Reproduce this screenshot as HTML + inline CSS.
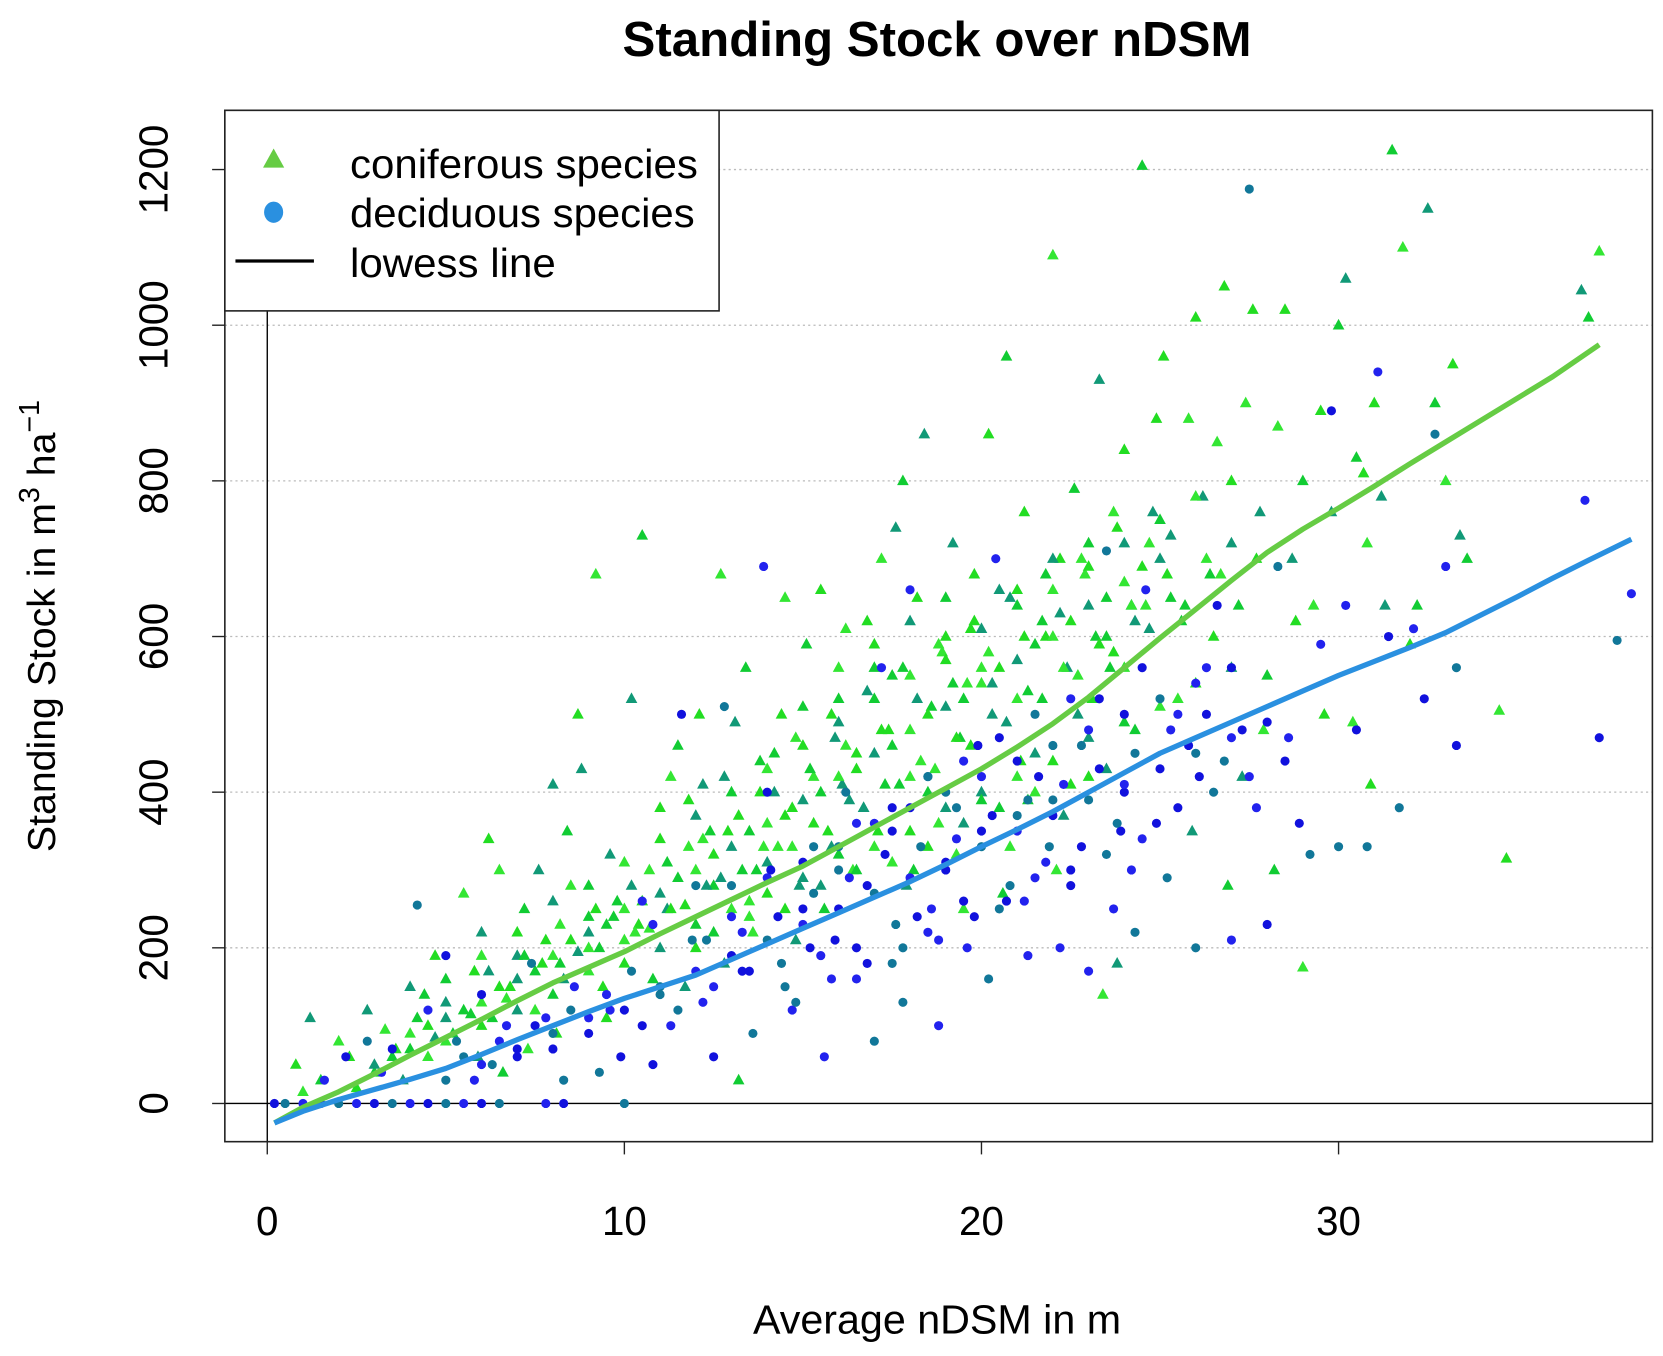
<!DOCTYPE html>
<html><head><meta charset="utf-8"><style>
html,body{margin:0;padding:0;background:#fff;}
svg{display:block;}
text{font-family:"Liberation Sans",sans-serif;}
</style></head><body>
<svg id="chart" width="1663" height="1356" viewBox="0 0 1568 1278" preserveAspectRatio="none" xmlns="http://www.w3.org/2000/svg">
<text x="587" y="53" textLength="593" lengthAdjust="spacingAndGlyphs" font-size="46" font-weight="bold">Standing Stock over nDSM</text>
<g id="grid"></g>
<g id="refs"></g>
<g id="pts"></g>
<g id="lines"></g>
<g id="axes"></g>
<text x="710" y="1257" textLength="347" lengthAdjust="spacingAndGlyphs" font-size="38">Average nDSM in m</text>
<text transform="translate(52,590) rotate(-90)" text-anchor="middle" font-size="37">Standing Stock in m<tspan font-size="27" dy="-15">3</tspan><tspan dy="15"> ha</tspan><tspan font-size="27" dy="-15">−1</tspan></text>
<g id="legend">
<rect x="212" y="104" width="466" height="189" fill="#fff" stroke="#222" stroke-width="1.5"/>
<polygon points="258,140 248,158 268,158" fill="#66cc44"/>
<text x="330" y="168" textLength="328" lengthAdjust="spacingAndGlyphs" font-size="38">coniferous species</text>
<ellipse cx="258" cy="200" rx="9" ry="10" fill="#2a90e0"/>
<text x="330" y="214" textLength="325" lengthAdjust="spacingAndGlyphs" font-size="38">deciduous species</text>
<line x1="222" y1="246" x2="296" y2="246" stroke="#000" stroke-width="3"/>
<text x="330" y="261" textLength="194" lengthAdjust="spacingAndGlyphs" font-size="38">lowess line</text>
</g>
</svg>
<script>
const xTicks=[0,10,20,30];
const yTicks=[0,200,400,600,800,1000,1200];
const conX=[0.8,1.2,1.5,2,2.3,2.8,3,3.3,3.6,4,4.2,4.5,4.7,5,5.2,1,2.5,3.8,4.4,5.5,
5.8,6,6.3,6.5,6.8,7,7.2,7.5,7.8,8,8.2,8.5,8.7,8.8,9,9.2,9.4,9.6,9.8,10,6.2,7.6,8.4,9,9.5,5.9,6.6,7.3,8.1,
10.2,10.5,10.7,11,11.2,11.5,11.8,12,12.2,12.5,12.7,12.9,13.1,13.4,13.6,13.8,14,14.2,14.5,14.7,14.9,10.8,11.3,12.1,12.8,13.2,13.9,14.4,11.7,12.4,13.5,10.4,14.8,
15.1,15.3,15.5,15.8,16,16.2,16.5,16.7,17,17.2,17.4,17.6,17.8,18,18.2,18.4,18.6,18.8,19,19.2,19.4,19.6,19.8,20,15.6,16.4,17.1,17.9,18.5,19.3,16.8,15.9,17.5,18.9,19.7,16.1,18.1,19.5,
20.2,20.5,20.7,21,21.2,21.5,21.7,22,22.2,22.4,22.6,22.9,23.1,23.3,23.5,23.7,24,24.2,24.5,24.7,24.9,20.3,21.3,22.1,23,23.8,24.3,20.8,21.8,22.7,23.6,24.6,21.1,22.3,20.6,23.4,
25.1,25.3,25.6,25.8,26,26.2,26.4,26.6,26.8,27,27.2,27.4,27.6,27.8,28,28.3,28.5,28.7,29,29.3,29.5,29.8,30,25.5,26.5,27.3,28.2,29,29.6,25.9,26.9,27.9,28.8,
30.2,30.5,30.8,31,31.3,31.5,31.8,32,32.5,32.7,33,33.2,33.4,33.6,34.5,34.7,36.8,37,37.3,30.9,31.2,32.2,30.4,30.7,
3,3.5,4,4.5,5,5.5,6,6.5,7,7.5,8,8.5,9,9.5,10,10.5,11,11.5,12,12.5,13,13.5,14,14.5,15,15.5,16,16.5,17,17.5,18,18.5,19,19.5,20,20.5,21,21.5,22,22.5,23,23.5,24,24.5,25,
4,5,6,7,8,9,10,11,12,13,14,15,16,17,18,19,20,21,22,23,24,25,26,27,
5,6,7,8,9,10,11,12,13,14,15,16,17,18,19,20,21,22,23,24,25,26,27,
4.7,5.7,6.7,7.7,8.7,9.7,10.7,11.7,12.7,13.7,14.7,15.7,16.7,17.7,18.7,19.7,20.7,21.7,22.7,23.7,24.7,25.7,26.7,27.7,
6.2,7.2,8.2,9.2,10.2,11.2,12.2,13.2,14.2,15.2,16.2,17.2,18.2,19.2,20.2,21.2,22.2,23.2,24.2,25.2,
8.3,9.3,10.3,11.3,12.3,13.3,14.3,15.3,16.3,17.3,18.3,19.3,20.3,21.3,22.3,23.3,24.3,25.3,26.3,
11.8,12.8,13.8,14.8,15.8,16.8,17.8,18.8,19.8,20.8,21.8,22.8,23.8,24.8,
12.5,13.5,14.5,15.5,16.5,17.5,18.5,19.5,20.5,21.5,22.5,23.5,
15,16,17,18,19,20,21,22,23,24];
const conY=[50,110,30,80,60,120,40,95,70,150,110,60,190,130,90,15,20,30,140,270,
170,220,110,300,150,190,250,120,210,410,180,280,500,430,240,680,150,320,260,210,340,300,350,200,110,60,40,70,90,
520,730,300,380,250,460,330,200,410,280,680,350,490,560,220,400,310,450,650,380,280,160,420,500,180,30,330,500,150,350,260,230,210,
590,420,660,330,520,610,450,380,560,700,480,740,800,420,650,860,510,360,600,720,470,540,680,400,250,300,350,280,400,320,620,470,550,580,610,410,300,250,
860,660,960,520,760,450,620,1090,700,560,790,680,520,930,600,760,840,640,1205,720,880,540,390,300,420,180,480,330,600,500,560,640,440,370,270,140,
960,730,620,880,1010,780,680,850,1050,720,640,900,1020,760,550,870,1020,700,800,640,890,760,1000,520,600,420,300,175,500,350,280,480,620,
1060,830,720,900,640,1225,1100,590,1150,900,800,950,730,700,505,315,1045,1010,1095,410,780,640,490,810,
50,60,90,100,110,120,130,150,160,170,190,210,220,230,250,260,270,290,300,320,330,350,360,370,390,400,420,430,450,460,480,500,510,520,540,560,570,590,600,620,640,650,670,690,700,
70,80,100,120,140,170,180,200,230,250,270,290,320,330,350,380,390,420,440,470,490,510,540,560,
160,190,220,260,280,310,340,370,400,430,460,490,520,550,570,610,640,660,690,720,750,780,800,
85,115,135,180,195,240,225,255,290,300,330,350,380,410,430,460,490,520,550,580,610,640,680,700,
170,190,230,250,280,310,340,370,400,430,460,480,520,540,580,600,630,600,640,680,
160,200,220,250,280,300,330,360,390,410,440,470,500,530,560,590,620,650,700,
390,420,440,470,500,530,560,590,620,650,680,700,740,760,
220,240,250,280,300,310,330,360,380,400,410,430,
510,560,590,620,650,560,660,700,720,560];
const decX=[0.2,0.5,1,1.5,2,2.5,3,3.5,4,4.5,5,5.5,6,6.5,7.8,8.3,10,1.6,2.2,2.8,3.2,3.5,4.2,4.5,5,5.3,5.8,6,6.3,6.7,7,7.4,7.8,8,8.3,8.6,9,9.3,9.6,9.9,10.2,10.5,10.8,11,11.3,11.6,11.9,12.2,12.5,12.8,13,13.3,13.6,13.9,14.1,14.4,14.7,15,15.3,15.6,15.9,16.2,16.5,16.8,17,17.2,17.5,17.8,18,18.2,18.5,18.8,19,19.3,19.6,19.9,20.2,20.4,20.7,21,21.3,21.6,21.9,22.2,22.5,22.8,23,23.3,23.5,23.7,24,24.3,24.6,24.9,25.2,25.5,25.8,26,26.3,26.6,26.8,27,27.3,27.5,27.7,28,28.3,28.6,28.9,29.2,29.5,29.8,30,30.2,30.5,30.8,31.1,31.4,31.7,32.1,32.4,32.7,33,33.3,33.3,36.9,37.3,37.8,38.2,14,16,18.6,20,22,24.2,26.1,12,10.8,15.2,17.6,21.2,23.9,
5,6,7,8,9,10,11,12,13,14,15,16,17,18,19,20,21,22,23,24,25,26,27,28,
5.5,6.5,7.5,8.5,9.5,10.5,11.5,12.5,13.5,14.5,15.5,16.5,17.5,18.5,19.5,20.5,21.5,22.5,23.5,24.5,25.5,26.5,27.5,28.5,
13,14,15,16,17,18,19,20,21,22,23,24,25,26,27,
12.3,13.3,14.3,15.3,16.3,17.3,18.3,19.3,20.3,21.3,22.3,23.3,24.3,25.3,26.3,
14.8,15.8,16.8,17.8,18.8,19.8,20.8,21.8,22.8,23.8,
16.5,17.5,18.5,19.5,20.5,21.5,22.5,24.5];
const decY=[0,0,0,0,0,0,0,0,0,0,0,0,0,0,0,0,0,30,60,80,40,70,255,120,190,80,30,140,50,100,60,180,110,70,30,150,90,40,120,60,170,260,50,140,100,500,210,130,60,510,240,170,90,690,300,180,120,250,330,60,210,400,160,280,80,560,350,130,660,240,420,100,300,380,200,460,160,700,260,370,190,420,330,200,280,460,170,520,710,250,400,220,660,360,290,500,460,200,560,640,440,210,480,1175,380,230,690,470,360,320,590,890,330,640,480,330,940,600,380,610,520,860,690,460,560,775,470,595,655,400,300,250,350,390,300,420,280,230,200,230,260,350,
30,50,70,90,110,120,150,170,190,210,230,250,270,290,310,330,350,370,390,410,430,450,470,490,
60,80,100,120,140,100,120,150,170,150,190,200,180,220,260,250,290,300,320,340,380,400,420,440,
280,290,310,330,360,380,400,420,440,460,480,500,520,540,560,
210,220,240,270,290,320,330,340,370,390,410,430,450,480,500,
130,160,180,200,210,240,280,310,330,360,
360,380,420,440,470,500,520,560];
const lowX=[0.2,1,2,3,4,5,6,7,8,9,10,11,12,13,14,15,16,17,18,19,20,21,22,23,24,25,26,27,28,29,30,31,32,33,34,35,36,37.3];
const conLowY=[-25,-5,15,38,62,85,108,132,155,175,195,218,240,262,284,305,330,355,380,405,430,458,488,522,560,598,635,672,708,738,765,793,822,850,878,906,934,975];
const decLowX=[0.2,1,2,3,4,5,6,7,8,9,10,11,12,13,14,15,16,17,18,19,20,21,22,23,24,25,26,27,28,29,30,31,32,33,34,35,36,37,38.2];
const decLowY=[-25,-10,5,18,31,45,63,82,100,118,135,150,165,185,205,225,245,265,285,307,330,352,375,400,425,450,470,490,510,530,550,568,586,605,628,651,675,698,725];

const NS='http://www.w3.org/2000/svg';
const X0=212,X1=1558,Y0=104,Y1=1076;
function sx(v){return 252+v*33.67;}
function sy(v){return 1040-v*0.7335;}
function mk(tag,attrs,parent){const e=document.createElementNS(NS,tag);for(const k in attrs)e.setAttribute(k,attrs[k]);parent.appendChild(e);return e;}
const grid=document.getElementById('grid'),refs=document.getElementById('refs'),pts=document.getElementById('pts'),lines=document.getElementById('lines'),axes=document.getElementById('axes');
yTicks.forEach(t=>{
 if(t===0)return;
 const g=mk('line',{x1:X0,x2:X1,y1:sy(t),y2:sy(t),stroke:'#bbb','stroke-width':1.2,'stroke-dasharray':'2,3'},grid);
 
 
});
let r1=mk('line',{x1:X0,x2:X1,y1:sy(0),y2:sy(0),stroke:'#000','stroke-width':1.3},refs);


let r2=mk('line',{x1:sx(0),x2:sx(0),y1:Y0,y2:Y1,stroke:'#000','stroke-width':1.3},refs);


const conCols=['#22dd22','#119977','#11cc33','#33e633'];
conX.forEach((x,i)=>{
 const cx=sx(x),cy=sy(conY[i]);
 const p=mk('polygon',{points:`${cx},${cy-6} ${cx-5.5},${cy+4} ${cx+5.5},${cy+4}`,fill:conCols[i%4]},pts);
 
 
});
const decCols=['#1111dd','#117799','#2222ee'];
decX.forEach((x,i)=>{
 const c=mk('circle',{cx:sx(x),cy:sy(decY[i]),r:4.3,fill:decCols[i%3]},pts);
 
 
});
let l1=mk('polyline',{points:lowX.map((x,i)=>sx(x)+','+sy(conLowY[i])).join(' '),fill:'none',stroke:'#66cc44','stroke-width':5,'stroke-linejoin':'round'},lines);


let l2=mk('polyline',{points:decLowX.map((x,i)=>sx(x)+','+sy(decLowY[i])).join(' '),fill:'none',stroke:'#2a90e0','stroke-width':5,'stroke-linejoin':'round'},lines);


let box=mk('rect',{x:X0,y:Y0,width:X1-X0,height:Y1-Y0,fill:'none',stroke:'#222','stroke-width':1.5},axes);


xTicks.forEach(t=>{
 const tk=mk('line',{x1:sx(t),x2:sx(t),y1:Y1,y2:Y1+12,stroke:'#222','stroke-width':1.3},axes);
 
 
 const lb=mk('text',{x:sx(t),y:1164,'text-anchor':'middle','font-size':38},axes);
 lb.textContent=t;
 
 
});
yTicks.forEach(t=>{
 const tk=mk('line',{x1:X0-12,x2:X0,y1:sy(t),y2:sy(t),stroke:'#222','stroke-width':1.3},axes);
 
 
 const lb=mk('text',{transform:`translate(158,${sy(t)}) rotate(-90)`,'text-anchor':'middle','font-size':38},axes);
 lb.textContent=t;
 
 
});
</script>
</body></html>
